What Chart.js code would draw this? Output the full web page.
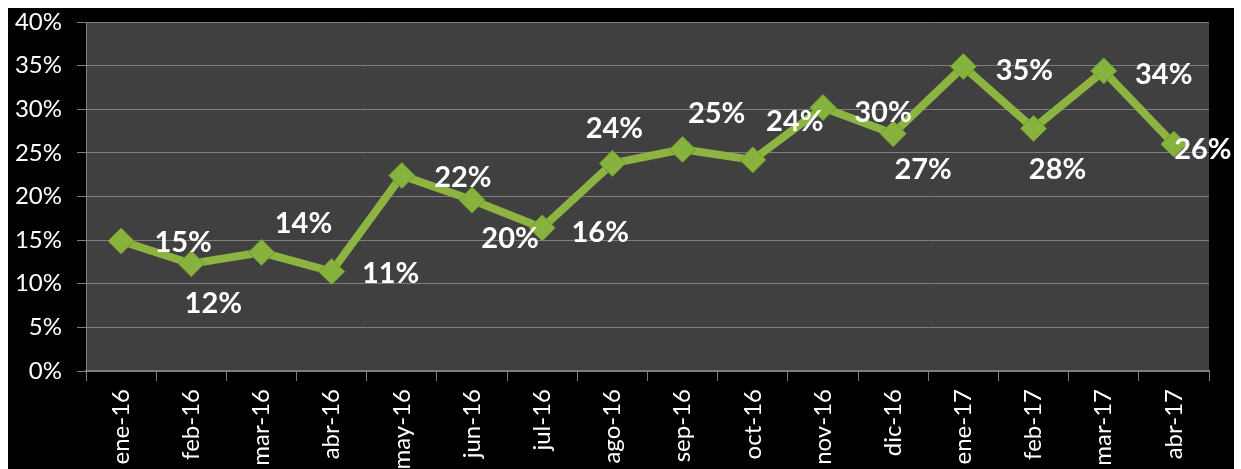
<!DOCTYPE html>
<html>
<head>
<meta charset="utf-8">
<script src="https://cdn.jsdelivr.net/npm/chart.js@4.4.1/dist/chart.umd.min.js"></script>
<style>
  html, body { margin: 0; padding: 0; background: #fff; }
  #wrap { position: absolute; left: 8px; top: 8px; width: 1226px; height: 461px; background: #000; }
</style>
</head>
<body>
<div id="wrap"><canvas id="c" width="1226" height="461"></canvas></div>
<script>
// Monthly share, Jan 2016 – Apr 2017 (values in %)
const MONTHS = [
  'ene-16', 'feb-16', 'mar-16', 'abr-16', 'may-16', 'jun-16', 'jul-16', 'ago-16',
  'sep-16', 'oct-16', 'nov-16', 'dic-16', 'ene-17', 'feb-17', 'mar-17', 'abr-17',
]
const SHARE = [14.9, 12.3, 13.6, 11.4, 22.4, 19.6, 16.4, 23.8, 25.4, 24.2, 30.2, 27.2, 34.9, 27.8, 34.4, 26.0]
const Y_TICKS = [0, 5, 10, 15, 20, 25, 30, 35, 40]

// where each data label sits relative to its marker (px)
const LABEL_OFFSETS = [
  [62, 2], [22, 40], [42, -29], [59, 2], [61, 2], [38, 39], [58, 5], [2, -35],
  [34, -36], [42, -38], [60, 5], [30, 36], [61, 4], [24, 41], [60, 4], [29, 5],
]

const GRID = '#7f7f7f'
const GREEN = '#8DB441'

// black frame + dark plot area
const background = {
  id: 'background',
  beforeDraw(chart) {
    const { ctx, chartArea: a } = chart
    ctx.save()
    ctx.fillStyle = '#000'
    ctx.fillRect(0, 0, chart.width, chart.height)
    ctx.fillStyle = '#404040'
    ctx.fillRect(a.left, a.top, a.right - a.left, a.bottom - a.top)
    ctx.restore()
  },
}

// white percentage labels next to the markers
const valueLabels = {
  id: 'valueLabels',
  afterDatasetsDraw(chart) {
    const { ctx } = chart
    const meta = chart.getDatasetMeta(0)
    ctx.save()
    ctx.font = 'bold 29px Lato'
    ctx.fillStyle = '#fff'
    ctx.textAlign = 'center'
    ctx.textBaseline = 'middle'
    meta.data.forEach((pt, i) => {
      const [dx, dy] = LABEL_OFFSETS[i]
      ctx.fillText(Math.round(SHARE[i]) + '%', pt.x + dx, pt.y + dy)
    })
    ctx.restore()
  },
}

new Chart(document.getElementById('c'), {
  type: 'line',
  data: {
    labels: MONTHS,
    datasets: [{
      data: SHARE,
      borderColor: GREEN,
      borderWidth: 8,
      tension: 0,
      pointStyle: 'rectRot',
      pointRadius: 13,
      pointBackgroundColor: '#87B23D',
      pointBorderColor: '#6E9B2C',
      pointBorderWidth: 1,
      clip: false,
    }],
  },
  options: {
    responsive: false,
    animation: false,
    events: [],
    layout: { padding: { top: 11, right: 25 } },
    plugins: { legend: { display: false }, tooltip: { enabled: false } },
    scales: {
      x: {
        offset: true,
        grid: { offset: true, drawOnChartArea: false, color: GRID, tickLength: 10 },
        border: { color: GRID, width: 2 },
        ticks: {
          color: '#fff', font: { family: 'Lato', size: 24 },
          minRotation: 90, maxRotation: 90, padding: 8, autoSkip: false,
        },
        afterFit: s => { s.height = 98 },
      },
      y: {
        min: 0,
        max: 40,
        afterBuildTicks: s => { s.ticks = Y_TICKS.map(v => ({ value: v })) },
        grid: { color: GRID, tickLength: 9 },
        border: { color: GRID },
        ticks: {
          color: '#fff', font: { family: 'Lato', size: 24 }, padding: 15,
          callback: v => v + '%',
        },
        afterFit: s => { s.width = 78; s.paddingTop = 0; s.paddingBottom = 0 },
      },
    },
  },
  plugins: [background, valueLabels],
})
</script>
</body>
</html>
